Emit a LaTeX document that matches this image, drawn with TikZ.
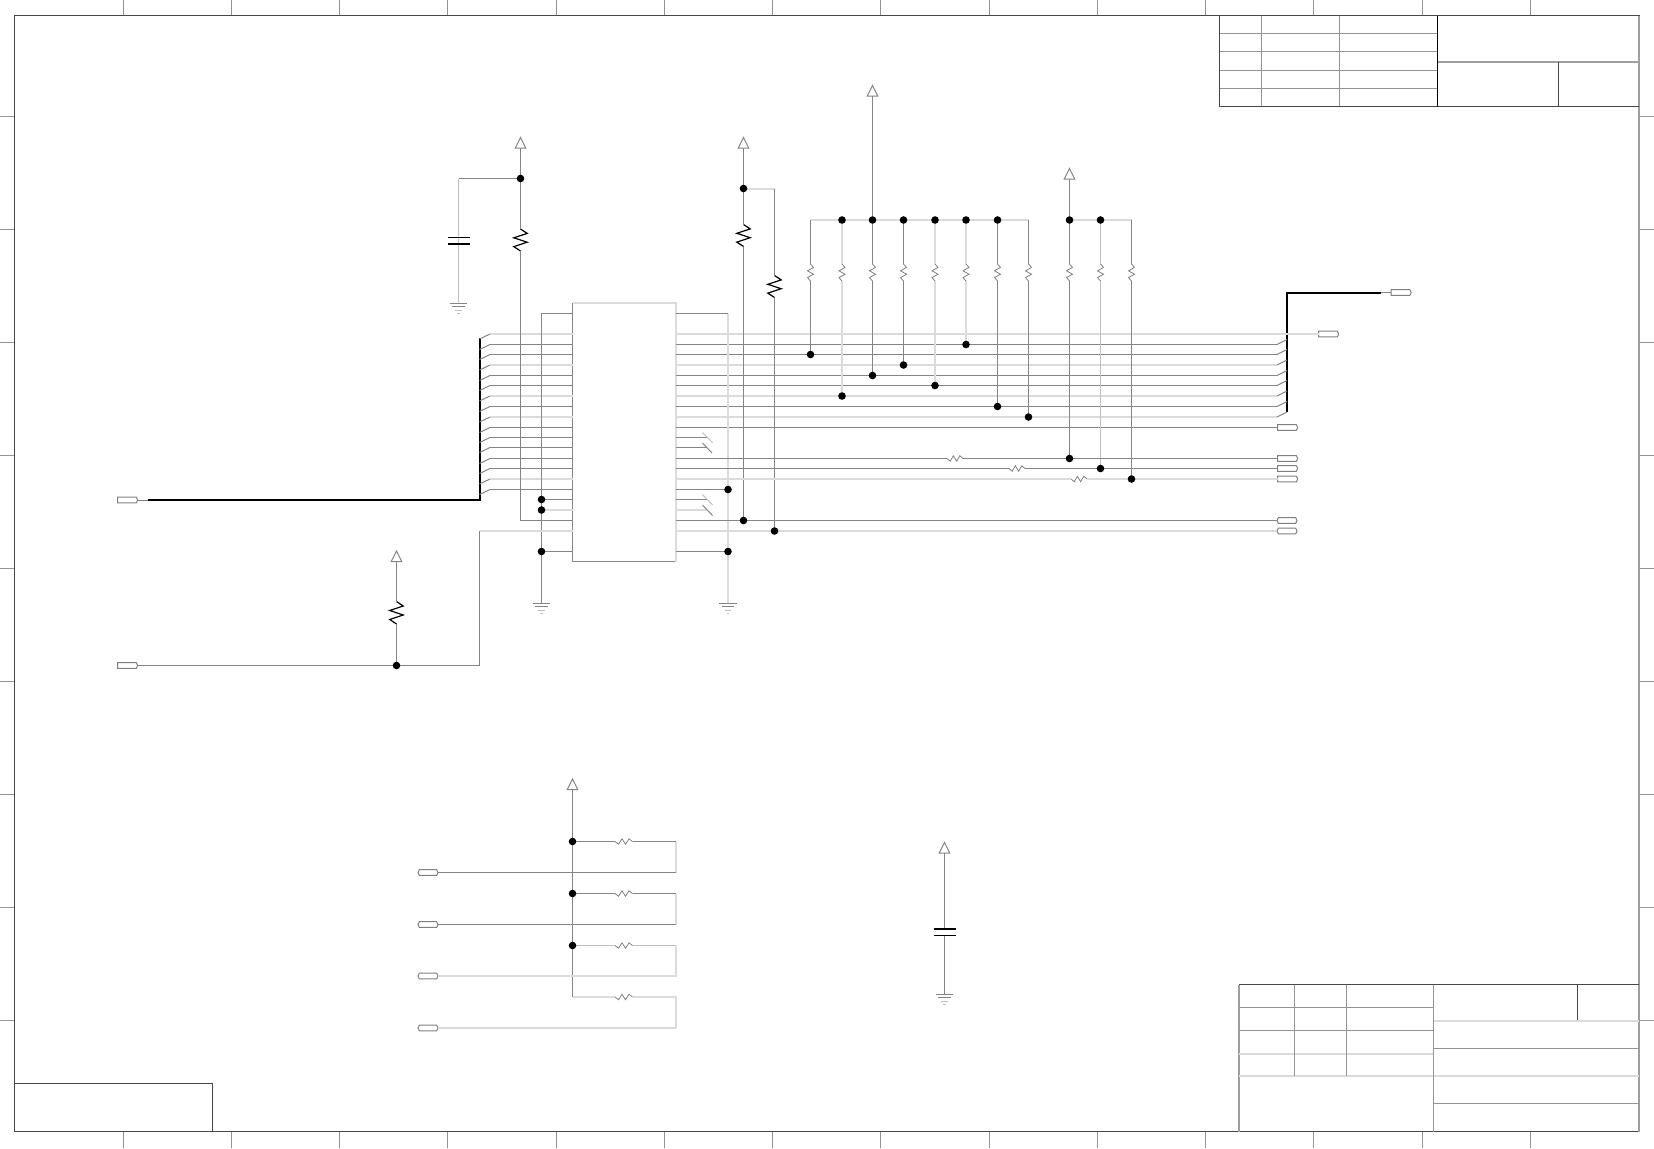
\documentclass[tikz,border=0pt]{standalone}
\usetikzlibrary{shapes.symbols}
\pgfdeclarelayer{fg}
\pgfsetlayers{main,fg}
\newcommand{\vresistor}[6]{% name, x, ytop, ybot, amp, style
  \coordinate (#1-t) at (#2,#3); \coordinate (#1-b) at (#2,#4);
  \draw[#6,line join=miter] (#2,#3) -- ({#2+#5},{#3+(#4-#3)*0.2}) -- ({#2-#5},{#3+(#4-#3)*0.4}) -- ({#2+#5},{#3+(#4-#3)*0.6}) -- ({#2-#5},{#3+(#4-#3)*0.8}) -- (#2,#4);}
\newcommand{\hresistor}[5]{% name, xl, xr, y, style
  \coordinate (#1-l) at (#2,#4); \coordinate (#1-r) at (#3,#4);
  \draw[#5] (#2,#4) -- ({#2+(#3-#2)*0.2},{#4+2.7}) -- ({#2+(#3-#2)*0.4},{#4-2.7}) -- ({#2+(#3-#2)*0.6},{#4+2.7}) -- ({#2+(#3-#2)*0.8},{#4-2.7}) -- (#3,#4);}
\newcommand{\pwr}[3]{% name, x, apex y
  \coordinate (#1) at (#2,{#3+10.5});
  \draw[wire,fill=white] ({#2-5.3},{#3+10.5}) -- (#2,#3) -- ({#2+5.3},{#3+10.5}) -- cycle;}
\newcommand{\gndsym}[3]{% name, x, y
  \coordinate (#1) at (#2,#3);
  \draw[wire] ({#2-8.7},#3) -- ({#2+8.7},#3);
  \draw[wire] ({#2-6.3},{#3+3.5}) -- ({#2+6.3},{#3+3.5});
  \draw[pale] ({#2-3.3},{#3+7}) -- ({#2+3.3},{#3+7});
  \draw[pale] ({#2-1.3},{#3+10.5}) -- ({#2+1.3},{#3+10.5});}
\tikzset{
  x=0.5pt,y=-0.5pt,
  wire/.style={draw=black!48,line width=0.5pt},
  lwire/.style={draw=black!14,line width=1pt},
  pale/.style={draw=black!25,line width=0.5pt},
  frameline/.style={draw=black!72,line width=0.5pt},
  gridline/.style={draw=black!42,line width=0.5pt},
  heavyframe/.style={draw=black!38,line width=1pt},
  bus/.style={draw=black,line width=1pt},
  bigres/.style={draw=black,line width=0.6pt},
  smallres/.style={draw=black!50,line width=0.4pt},
  plate/.style={draw=black,line width=0.8pt},
  jn/.style={circle,fill=black,draw=none,inner sep=0pt,outer sep=0pt,minimum size=3.8pt},
  portnode/.style={shape=signal,signal to=east,signal pointer angle=130,draw=black!50,line width=0.5pt,fill=white,inner sep=0pt,outer sep=0pt,minimum width=10pt,minimum height=2.8pt},
  port2/.style={portnode,signal to=east and west},
}
\begin{document}
\begin{tikzpicture}
\useasboundingbox (0,0) rectangle (1654,1148);
% sheet frame and ticks
\foreach \k in {0,...,13}{
  \draw[gridline] ({floor(123+108.27*\k)+0.5},0) -- ({floor(123+108.27*\k)+0.5},15);
  \draw[gridline] ({floor(123+108.27*\k)+0.5},1131.5) -- ({floor(123+108.27*\k)+0.5},1148);}
\foreach \k in {0,...,8}{
  \draw[gridline] (0,{floor(116+113*\k)+0.5}) -- (14.5,{floor(116+113*\k)+0.5});
  \draw[gridline] (1639,{floor(116+113*\k)+0.5}) -- (1654,{floor(116+113*\k)+0.5});}
\draw[frameline] (14.5,15.5) rectangle (1639,1131.5);
\draw[heavyframe] (1639,15.5) -- (1639,1131.5);
% revision table top right
\foreach \y in {33.5,51.5,70.5,88.5} \draw[gridline] (1219.5,\y) -- (1437.5,\y);
\foreach \x in {1261.5,1339.5} \draw[gridline] (\x,15.5) -- (\x,106.5);
\draw[frameline] (1219.5,15.5) -- (1219.5,106.5) -- (1639,106.5);
\draw[draw=black,line width=0.5pt] (1437.5,15.5) -- (1437.5,106.5);
\draw[draw=black!38,line width=1pt] (1437.5,62) -- (1639,62);
\draw[frameline] (1558.5,62) -- (1558.5,106.5);
% title block bottom right
\draw[frameline] (1239,984.5) -- (1639,984.5);
\draw[heavyframe] (1239,984.5) -- (1239,1131.5);
\foreach \y in {1007.5,1030.5} \draw[gridline] (1239,\y) -- (1433.5,\y);
\draw[lwire] (1239,1053.5) -- (1433.5,1053.5);
\draw[lwire] (1239,1076) -- (1639,1076);
\foreach \x in {1294.5,1346.5} \draw[gridline] (\x,984.5) -- (\x,1076);
\draw[gridline] (1433.5,984.5) -- (1433.5,1131.5);
\draw[frameline] (1577.5,984.5) -- (1577.5,1021);
\draw[lwire] (1433.5,1021) -- (1639,1021);
\draw[gridline] (1433.5,1048.5) -- (1639,1048.5);
\draw[gridline] (1433.5,1103.5) -- (1639,1103.5);
% small box bottom left
\draw[frameline] (14.5,1083.5) -- (212.5,1083.5) -- (212.5,1131.5);

% IC and row coordinates
\node[draw=black!48,line width=0.5pt,inner sep=0pt,outer sep=0pt,minimum width=51.75pt,minimum height=129.25pt,anchor=north west] (ic) at (572.5,303) {};
\draw[lwire] (ic.north west) -- (ic.north east) -- (ic.south east);
\foreach \n/\y in {t/313.5,0/334,1/344.5,2/354.5,3/365,4/375.5,5/385.5,6/396,7/406.5,8/417,9/427.5,10/437.5,11/447.5,12/458.5,13/468.5,14/479,15/489.5,16/499.5,17/510,18/520.5,19/531,21/551.5}{
  \coordinate (L\n) at (572.5,\y); \coordinate (R\n) at (676,\y);
  \coordinate (BL\n) at (490,\y); \coordinate (BR\n) at (1277,\y); \coordinate (S\n) at (707,\y);}

% ports
\node[portnode] (pinbus) at (127,500) {};
\node[portnode] (pinrst) at (127,665.5) {};
\node[portnode] (pout0) at (1328,334) {};
\node[portnode] (poutbus) at (1400.5,292.5) {};
\node[portnode] (p9) at (1287,427.5) {};
\node[portnode] (p12) at (1287,458.5) {};
\node[portnode] (p13) at (1287,468.5) {};
\node[portnode] (p14) at (1287,479) {};
\node[port2] (p18) at (1287,520.5) {};
\node[port2] (p19) at (1287,531) {};
\node[port2] (q1) at (428,872.5) {};
\node[port2] (q2) at (428,924.5) {};
\node[port2] (q3) at (428,976) {};
\node[port2] (q4) at (428,1028) {};

% junctions
\begin{pgfonlayer}{fg}
\node[jn] (dA) at (520.5,178.5) {};
\node[jn] (dB) at (743.5,188.5) {};
\node[jn] (dC) at (396.5,665.5) {};
\node[jn] (dD1) at (541.5,499.5) {};
\node[jn] (dD2) at (541.5,510) {};
\node[jn] (dD3) at (541.5,551.5) {};
\node[jn] (dE1) at (728,489.5) {};
\node[jn] (dE2) at (728,551.5) {};
\node[jn] (dF) at (743.5,520.5) {};
\node[jn] (dG) at (774.5,531) {};
\foreach \i/\x in {2/842,3/872.5,4/903.5,5/935,6/966,7/997.5,9/1069.5,10/1100.5}
  \node[jn] (top\i) at (\x,220) {};
\foreach \i/\x/\y in {1/810.5/354.5,2/842/396,3/872.5/375.5,4/903.5/365,5/935/385.5,6/966/344.5,7/997.5/406.5,8/1028.5/417,9/1069.5/458.5,10/1100.5/468.5,11/1131.5/479}
  \node[jn] (pu\i) at (\x,\y) {};
\foreach \i/\y in {1/841.5,2/893.5,3/945.5}
  \node[jn] (dH\i) at (572.5,\y) {};
\end{pgfonlayer}
\coordinate (top1) at (810.5,220);
\coordinate (top8) at (1028.5,220);
\coordinate (top11) at (1131.5,220);

% power and ground symbols
\pwr{vA}{520.5}{137.5}
\pwr{vB}{743.5}{137.5}
\pwr{vC}{396.5}{551}
\pwr{vD}{872.5}{85.5}
\pwr{vE}{1069.5}{168.5}
\pwr{vF}{572.5}{779}
\pwr{vG}{944.5}{842.5}
\gndsym{g1}{458.5}{303}
\gndsym{g2}{541.5}{603}
\gndsym{g3}{728}{603}
\gndsym{g4}{944.5}{994}

% resistors
\vresistor{rA}{520.5}{229}{251}{6.7}{bigres}
\vresistor{rB}{743.5}{224.5}{246.5}{6.7}{bigres}
\vresistor{rC}{774.5}{275.5}{297.5}{6.7}{bigres}
\vresistor{rD}{396.5}{601.5}{624}{6.7}{bigres}
\foreach \i/\x in {1/810.5,2/842,3/872.5,4/903.5,5/935,6/966,7/997.5,8/1028.5,9/1069.5,10/1100.5,11/1131.5}
  \vresistor{ru\i}{\x}{264}{281}{3}{smallres};
\hresistor{rr12}{947}{963}{458.5}{smallres}
\hresistor{rr13}{1009}{1025}{468.5}{smallres}
\hresistor{rr14}{1071}{1087}{479}{smallres}
\hresistor{rh1}{615}{632.5}{841.5}{smallres}
\hresistor{rh2}{615}{632.5}{893.5}{smallres}
\hresistor{rh3}{615}{632.5}{945.5}{smallres}
\hresistor{rh4}{615}{632.5}{997}{smallres}

% left bus and its entries
\coordinate (busL) at (147.5,500);
\draw[wire] (pinbus.east) -- (busL);
\draw[bus] (busL) -- (479.5,500) -- (479.5,338);
\foreach \n/\s in {0/lwire,1/wire,2/wire,3/lwire,4/wire,5/wire,6/lwire,7/wire,8/lwire,9/wire,10/wire,11/wire,12/wire,13/wire,14/lwire,15/wire}{
  \draw[\s] (BL\n) -- (L\n);
  \draw[wire] (BL\n) -- ++(-10.5,5);}
% right bus and its entries
\coordinate (busR) at (1380.5,292.5);
\draw[wire] (busR) -- (poutbus.west);
\draw[bus] (busR) -- (1287,292.5) -- (1287,412);
\draw[lwire] (R0) -- (pout0.west);
\foreach \n/\s in {1/wire,2/wire,3/lwire,4/wire,5/wire,6/lwire,7/wire,8/lwire}{
  \draw[\s] (R\n) -- (BR\n);
  \draw[wire] (BR\n) -- ++(10,-5);}
\draw[wire] (R9) -- (p9.west);
% unconnected pins with no-connect marks
\foreach \n/\s in {10/wire,11/wire,16/wire,17/lwire}{
  \draw[\s] (R\n) -- (S\n);}
\draw[pale] (702.5,432.5) -- (712.5,442.5);
\draw[wire] (702.5,443) -- (712,453);
\draw[pale] (702.5,494.5) -- (712.5,505);
\draw[wire] (702.5,505) -- (712.5,515.5);
% left side verticals
\draw[wire] (Lt) -- (541.5,313.5) -- (g2);
\draw[wire] (dD1) -- (L16);
\draw[lwire] (dD2) -- (L17);
\draw[wire] (dD3) -- (L21);
% right side vertical
\draw[wire] (Rt) -- (728,313.5);
\draw[lwire] (728,313.5) -- (g3);
\draw[wire] (R15) -- (dE1);
\draw[wire] (R21) -- (dE2);
% reset net
\draw[wire] (pinrst.east) -- (dC);
\draw[wire] (dC) -- (479.5,665.5) -- (479.5,531);
\draw[lwire] (479.5,531) -- (L19);
\draw[wire] (vC) -- (rD-t);
\draw[wire] (rD-b) -- (dC);
% pull-ups of the controller
\draw[wire] (vA) -- (dA);
\draw[wire] (dA) -- (rA-t);
\draw[wire] (rA-b) -- (520.5,520.5) -- (L18);
\draw[wire] (dA) -- (458.5,178.5);
\draw[pale] (458.5,178.5) -- (g1);
\draw[plate] (447.5,237.5) -- (469.5,237.5);
\draw[plate] (447.5,244) -- (469.5,244);
\draw[wire] (vB) -- (dB);
\draw[wire] (dB) -- (rB-t);
\draw[wire] (rB-b) -- (dF);
\draw[lwire] (dB) -- (774.5,188.5);
\draw[wire] (774.5,188.5) -- (rC-t);
\draw[wire] (rC-b) -- (dG);
\draw[wire] (R18) -- (p18.west);
\draw[lwire] (R19) -- (p19.west);
% pull-up bank
\draw[wire] (vD) -- (top3);
\draw[wire] (vE) -- (top9);
\draw[lwire] (top1) -- (top8);
\draw[lwire] (top9) -- (top11);
\foreach \i/\s in {1/wire,2/lwire,3/wire,4/wire,5/lwire,6/lwire,7/wire,8/wire,9/wire,10/pale,11/wire}{
  \draw[\s] (top\i) -- (ru\i-t);
  \draw[\s] (ru\i-b) -- (pu\i);}
% series resistors
\draw[wire] (R12) -- (rr12-l);
\draw[wire] (rr12-r) -- (p12.west);
\draw[wire] (R13) -- (rr13-l);
\draw[wire] (rr13-r) -- (p13.west);
\draw[lwire] (R14) -- (rr14-l);
\draw[lwire] (rr14-r) -- (p14.west);
% bottom pull-up network
\draw[wire] (vF) -- (572.5,997);
\draw[wire] (dH1) -- (rh1-l);
\draw[wire] (dH2) -- (rh2-l);
\draw[pale] (dH3) -- (rh3-l);
\draw[lwire] (572.5,997) -- (rh4-l);
\draw[wire] (rh1-r) -- (676,841.5);
\draw[lwire] (676,841.5) -- (676,872.5);
\draw[wire] (676,872.5) -- (q1.east);
\draw[wire] (rh2-r) -- (676,893.5);
\draw[lwire] (676,893.5) -- (676,924.5);
\draw[wire] (676,924.5) -- (q2.east);
\draw[pale] (rh3-r) -- (676,945.5);
\draw[lwire] (676,945.5) -- (676,976) -- (q3.east);
\draw[lwire] (rh4-r) -- (676,997) -- (676,1028) -- (q4.east);
% decoupling capacitor
\draw[wire] (vG) -- (944.5,929);
\draw[wire] (944.5,935.5) -- (g4);
\draw[plate] (933.5,929) -- (955.5,929);
\draw[plate] (933.5,935.5) -- (955.5,935.5);
\end{tikzpicture}
\end{document}
